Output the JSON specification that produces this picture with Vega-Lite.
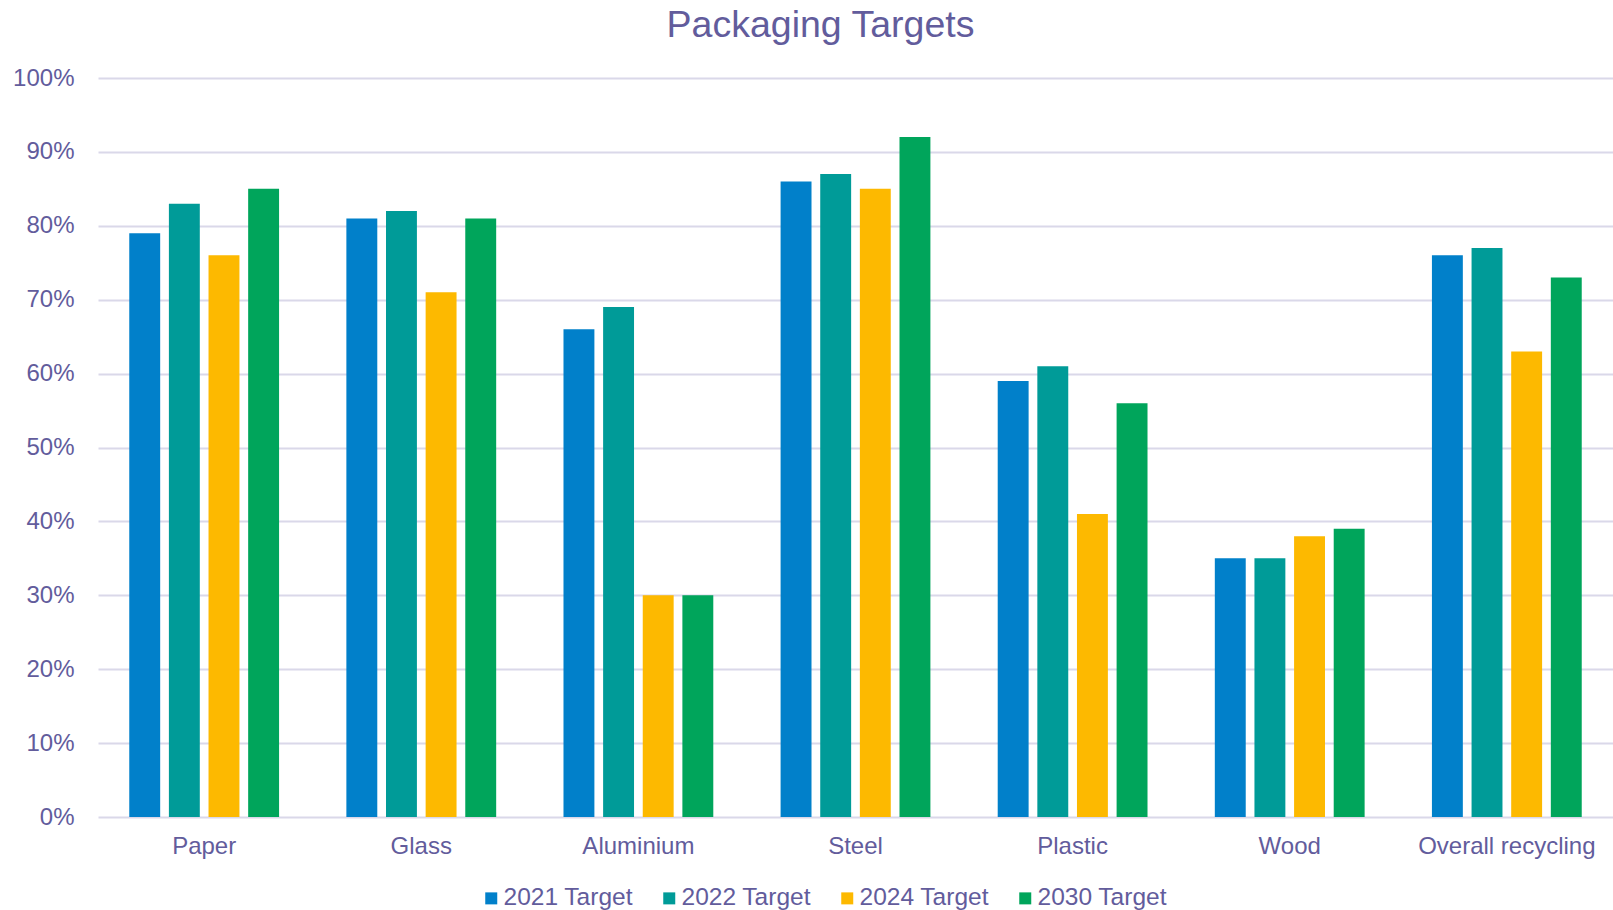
{
  "$schema": "https://vega.github.io/schema/vega-lite/v6.json",
  "autosize": {"type": "none"},
  "width": 1515,
  "height": 739,
  "padding": {"left": 98, "top": 78, "right": 0, "bottom": 93},
  "background": "white",
  "title": {
    "text": "Packaging Targets",
    "font": "Liberation Sans",
    "fontSize": 37.5,
    "fontWeight": "normal",
    "color": "#625C9C",
    "anchor": "middle",
    "dx": -35,
    "offset": 22
  },
  "data": {
    "values": [
      {"material": "Paper", "series": "2021 Target", "value": 0.79},
      {"material": "Paper", "series": "2022 Target", "value": 0.83},
      {"material": "Paper", "series": "2024 Target", "value": 0.76},
      {"material": "Paper", "series": "2030 Target", "value": 0.85},
      {"material": "Glass", "series": "2021 Target", "value": 0.81},
      {"material": "Glass", "series": "2022 Target", "value": 0.82},
      {"material": "Glass", "series": "2024 Target", "value": 0.71},
      {"material": "Glass", "series": "2030 Target", "value": 0.81},
      {"material": "Aluminium", "series": "2021 Target", "value": 0.66},
      {"material": "Aluminium", "series": "2022 Target", "value": 0.69},
      {"material": "Aluminium", "series": "2024 Target", "value": 0.30},
      {"material": "Aluminium", "series": "2030 Target", "value": 0.30},
      {"material": "Steel", "series": "2021 Target", "value": 0.86},
      {"material": "Steel", "series": "2022 Target", "value": 0.87},
      {"material": "Steel", "series": "2024 Target", "value": 0.85},
      {"material": "Steel", "series": "2030 Target", "value": 0.92},
      {"material": "Plastic", "series": "2021 Target", "value": 0.59},
      {"material": "Plastic", "series": "2022 Target", "value": 0.61},
      {"material": "Plastic", "series": "2024 Target", "value": 0.41},
      {"material": "Plastic", "series": "2030 Target", "value": 0.56},
      {"material": "Wood", "series": "2021 Target", "value": 0.35},
      {"material": "Wood", "series": "2022 Target", "value": 0.35},
      {"material": "Wood", "series": "2024 Target", "value": 0.38},
      {"material": "Wood", "series": "2030 Target", "value": 0.39},
      {"material": "Overall recycling", "series": "2021 Target", "value": 0.76},
      {"material": "Overall recycling", "series": "2022 Target", "value": 0.77},
      {"material": "Overall recycling", "series": "2024 Target", "value": 0.63},
      {"material": "Overall recycling", "series": "2030 Target", "value": 0.73}
    ]
  },
  "mark": {"type": "bar"},
  "encoding": {
    "x": {
      "field": "material",
      "type": "nominal",
      "sort": null,
      "scale": {"paddingInner": 0.31, "paddingOuter": 0.144},
      "axis": {
        "title": null,
        "labelAngle": 0,
        "labelFont": "Liberation Sans",
        "labelFontSize": 24,
        "labelColor": "#625C9C",
        "labelPadding": 17,
        "ticks": false,
        "domain": false
      }
    },
    "xOffset": {
      "field": "series",
      "type": "nominal",
      "scale": {"paddingInner": 0.22, "paddingOuter": 0}
    },
    "y": {
      "field": "value",
      "type": "quantitative",
      "scale": {"domain": [0, 1], "nice": false},
      "axis": {
        "title": null,
        "values": [0, 0.1, 0.2, 0.3, 0.4, 0.5, 0.6, 0.7, 0.8, 0.9, 1],
        "format": ".0%",
        "labelFont": "Liberation Sans",
        "labelFontSize": 24,
        "labelColor": "#625C9C",
        "labelPadding": 24,
        "ticks": false,
        "domain": false,
        "grid": true,
        "gridColor": "#DAD8E9",
        "gridWidth": 2
      }
    },
    "color": {
      "field": "series",
      "type": "nominal",
      "scale": {
        "domain": ["2021 Target", "2022 Target", "2024 Target", "2030 Target"],
        "range": ["#0180CA", "#009B98", "#FDB900", "#00A55B"]
      },
      "legend": {
        "title": null,
        "orient": "none",
        "direction": "horizontal",
        "legendX": 381,
        "legendY": 808,
        "symbolType": "square",
        "symbolSize": 144,
        "symbolStrokeWidth": 0,
        "labelFont": "Liberation Sans",
        "labelFontSize": 24.5,
        "labelColor": "#625C9C",
        "labelOffset": 0,
        "columnPadding": 24
      }
    }
  },
  "config": {
    "view": {"stroke": null}
  }
}
